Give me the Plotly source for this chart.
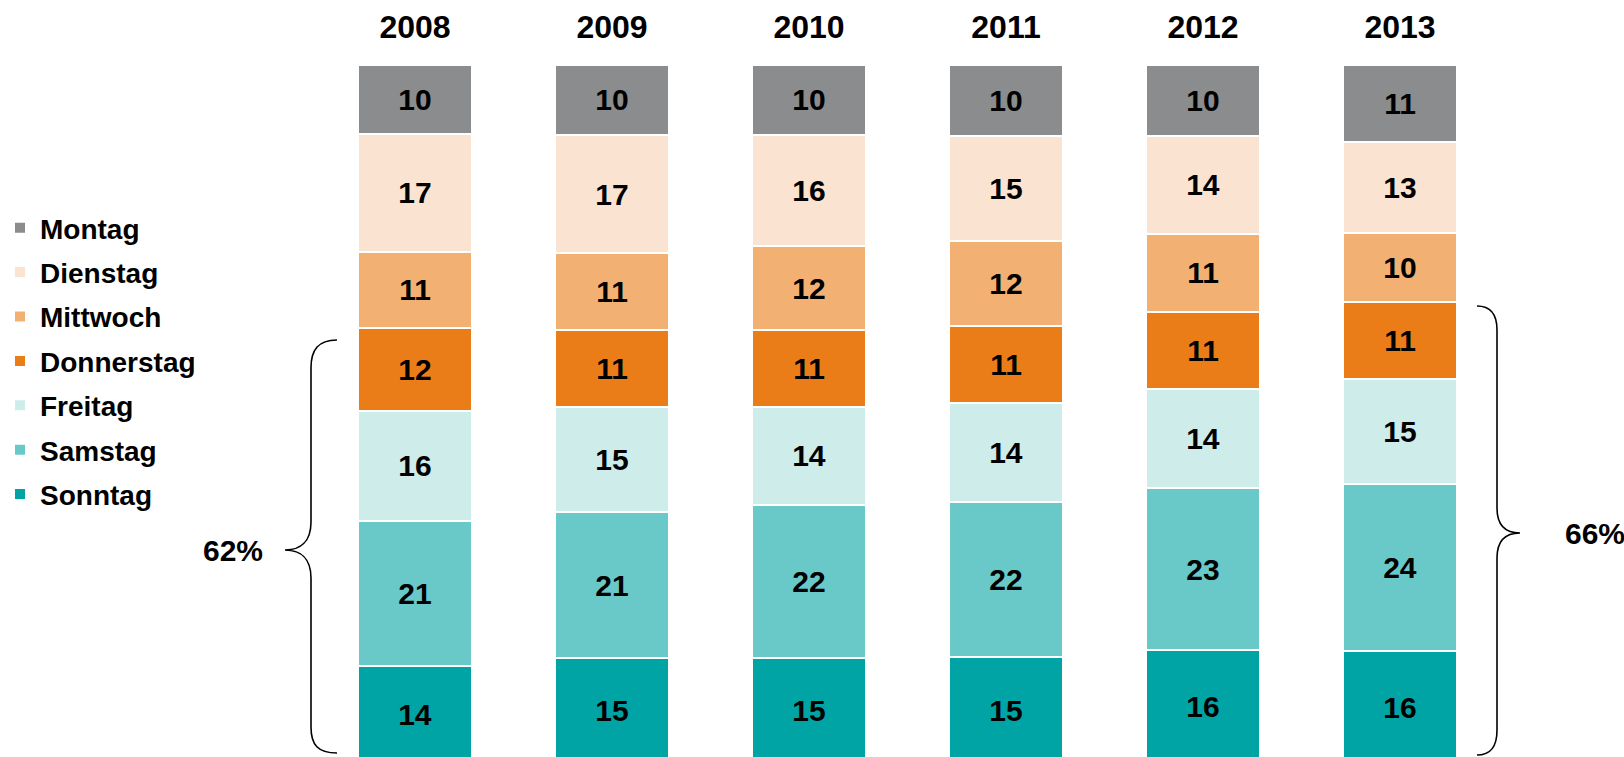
import plotly.graph_objects as go

# ---------------- data ----------------
years = ["2008", "2009", "2010", "2011", "2012", "2013"]
days = ["Montag", "Dienstag", "Mittwoch", "Donnerstag", "Freitag", "Samstag", "Sonntag"]
montag = [10, 10, 10, 10, 10, 11]
dienstag = [17, 17, 16, 15, 14, 13]
mittwoch = [11, 11, 12, 12, 11, 10]
donnerstag = [12, 11, 11, 11, 11, 11]
freitag = [16, 15, 14, 14, 14, 15]
samstag = [21, 21, 22, 22, 23, 24]
sonntag = [14, 15, 15, 15, 16, 16]
brace_labels = ["62%", "66%"]

series = {
    "Montag": montag, "Dienstag": dienstag, "Mittwoch": mittwoch,
    "Donnerstag": donnerstag, "Freitag": freitag, "Samstag": samstag, "Sonntag": sonntag,
}
colors = {
    "Montag": "#8A8C8D", "Dienstag": "#FBE3D1", "Mittwoch": "#F2B173",
    "Donnerstag": "#EA7D17", "Freitag": "#CDECEA", "Samstag": "#69C9C9", "Sonntag": "#00A4A4",
}

W, H = 1624, 757
TOP, BOTTOM_PX = 65, 757
FONT = "Arial, Liberation Sans, sans-serif"

def px_x(x):
    return x / W

def px_y(y):
    return (BOTTOM_PX - y) / (BOTTOM_PX - TOP)

fig = go.Figure()
# stack bottom-up: Sonntag first
for d in reversed(days):
    vals = series[d]
    fig.add_trace(go.Bar(
        x=years, y=vals, name=d, legendgroup=d, legendrank=days.index(d) + 1,
        marker=dict(color=colors[d], line=dict(color="white", width=2)),
        text=[str(v) for v in vals],
        texttemplate="%{text}",
        textposition="inside", insidetextanchor="middle",
        textangle=0,
        textfont=dict(family=FONT, size=30, color="black", weight="bold"),
        hoverinfo="skip",
    ))

spacing = 197.0
x0 = -415.0 / spacing
x1 = x0 + W / spacing

fig.update_layout(
    width=W, height=H,
    barmode="stack", barnorm="percent", bargap=0.42,
    margin=dict(l=0, r=0, t=TOP, b=0, pad=0, autoexpand=False),
    paper_bgcolor="white", plot_bgcolor="white",
    font=dict(family=FONT, color="black"),
    xaxis=dict(
        side="top", range=[x0, x1], showgrid=False, zeroline=False, showline=False,
        ticks="", tickfont=dict(family=FONT, size=32, color="black", weight="bold"),
        ticklabelstandoff=20, automargin=False,
    ),
    yaxis=dict(range=[6.0 / 698 * 100, 100], visible=False, showgrid=False,
               zeroline=False, automargin=False),
    legend=dict(
        x=0.0, xanchor="left", y=px_y(203), yanchor="top",
        font=dict(family=FONT, size=28, color="black", weight="bold"),
        bgcolor="rgba(0,0,0,0)", tracegroupgap=5, itemsizing="constant",
        traceorder="grouped",
    ),
    showlegend=True,
)

def P(x, y):
    return f"{px_x(x):.5f},{px_y(y):.5f}"

left = (f"M {P(337,340)} C {P(318,340)} {P(311,350)} {P(311,368)} "
        f"L {P(311,522)} C {P(311,542)} {P(300,550)} {P(285,550)} "
        f"C {P(300,550)} {P(311,558)} {P(311,578)} "
        f"L {P(311,727)} C {P(311,745)} {P(318,753)} {P(337,753)}")
right = (f"M {P(1477,306)} C {P(1490,306)} {P(1497,314)} {P(1497,330)} "
         f"L {P(1497,508)} C {P(1497,526)} {P(1506,533)} {P(1520,533)} "
         f"C {P(1506,533)} {P(1497,540)} {P(1497,558)} "
         f"L {P(1497,730)} C {P(1497,748)} {P(1490,755)} {P(1477,755)}")
for path in (left, right):
    fig.add_shape(type="path", path=path, xref="paper", yref="paper",
                  line=dict(color="black", width=1.6), fillcolor="rgba(0,0,0,0)")

fig.add_annotation(x=px_x(233), y=px_y(550), xref="paper", yref="paper",
                   xanchor="center", yanchor="middle",
                   text=brace_labels[0], showarrow=False,
                   font=dict(family=FONT, size=30, color="black", weight="bold"))
fig.add_annotation(x=px_x(1595), y=px_y(533), xref="paper", yref="paper",
                   xanchor="center", yanchor="middle",
                   text=brace_labels[1], showarrow=False,
                   font=dict(family=FONT, size=30, color="black", weight="bold"))

fig.write_html(
    "out.html",
    config={"displayModeBar": False},
    post_script="document.body.style.margin='0';document.body.style.overflow='hidden';",
)
